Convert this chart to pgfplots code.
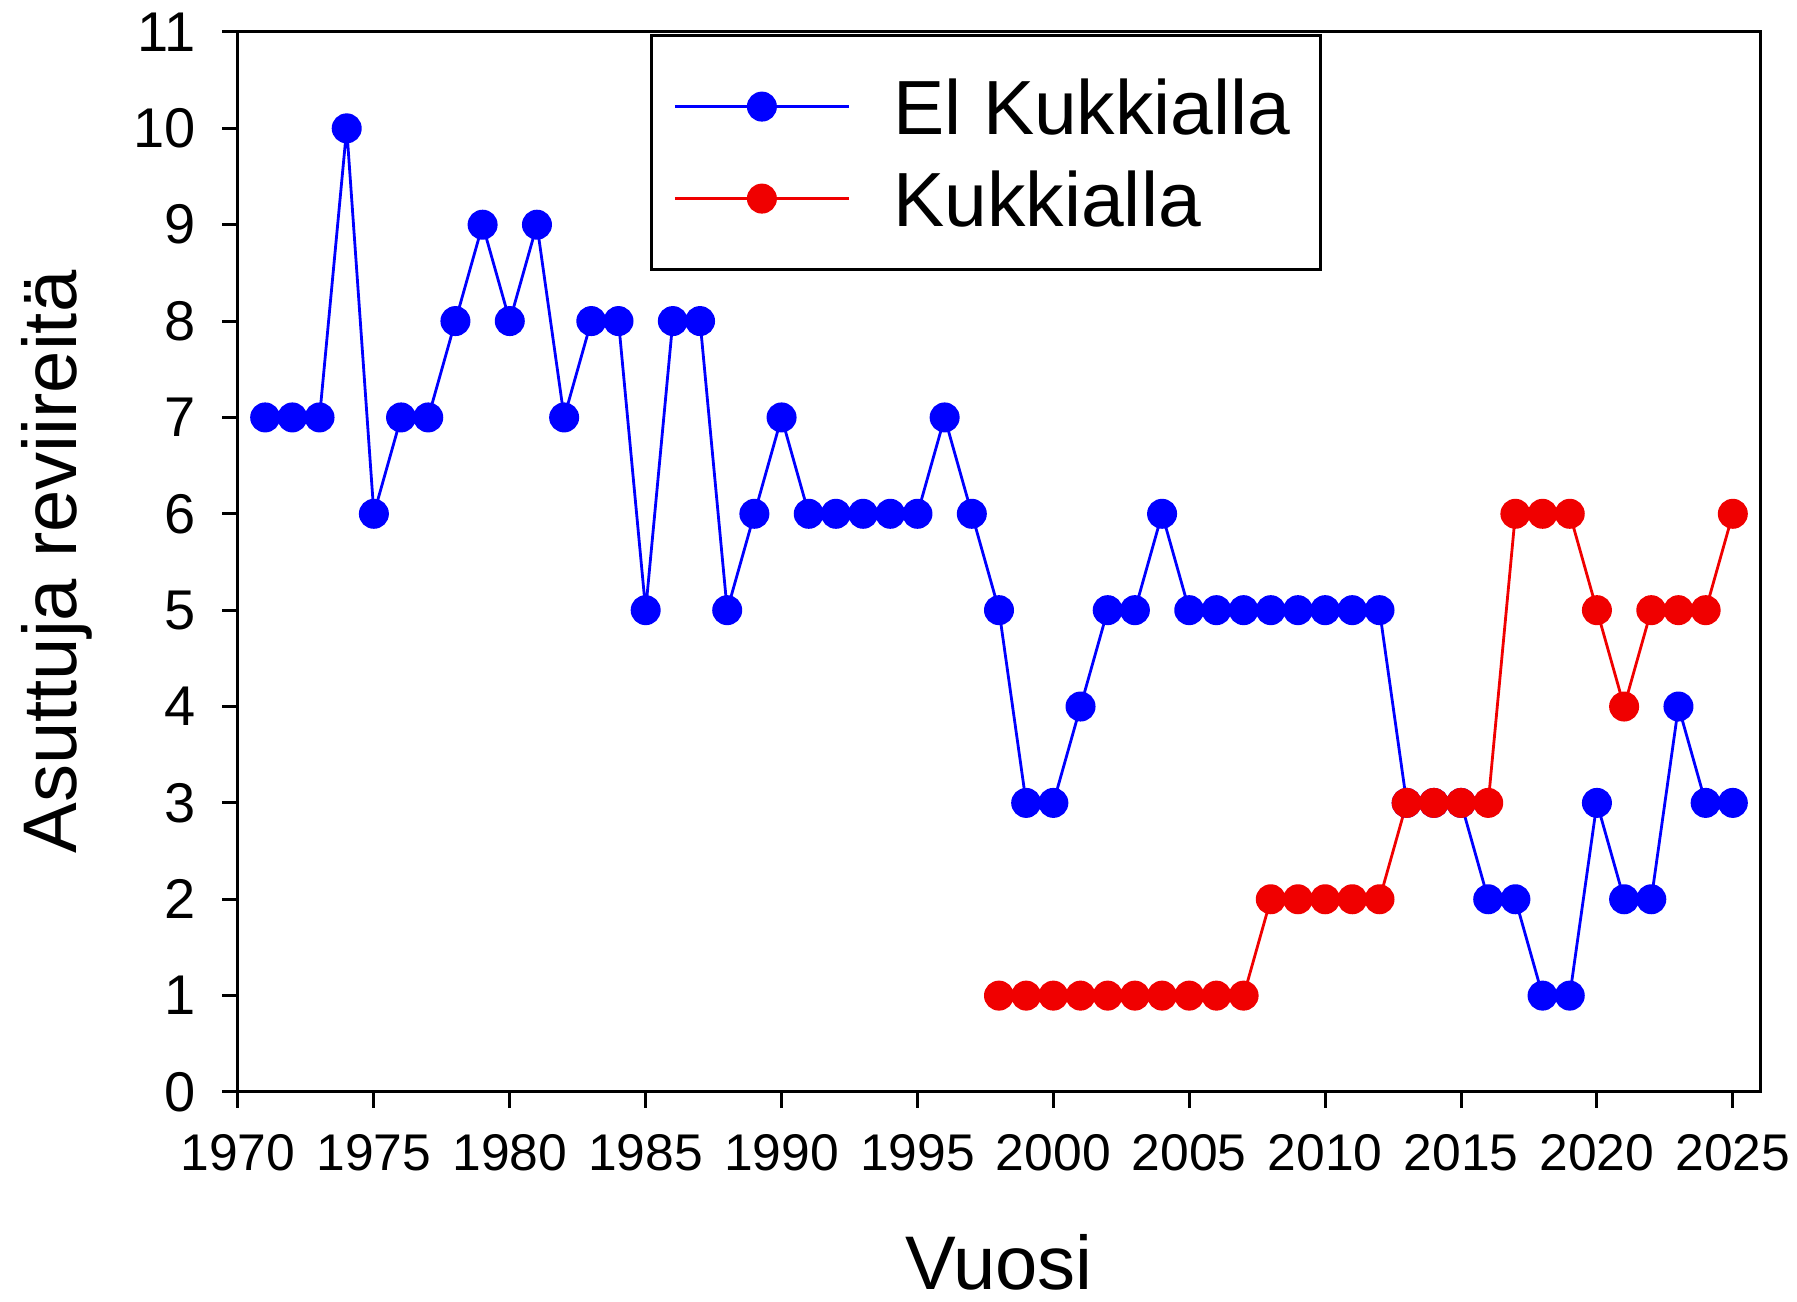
\documentclass[border=0pt]{standalone}
\usepackage{pgfplots}
\pgfplotsset{compat=1.18}
\usepackage{fontspec}
\setmainfont{Liberation Sans}
\definecolor{cblue}{RGB}{0,0,255}
\definecolor{cred}{RGB}{240,0,0}
\begin{document}
\begin{tikzpicture}
\useasboundingbox (-59.5pt,-52.5pt) rectangle (389.75pt,273pt);
\begin{axis}[
  at={(0pt,0pt)}, anchor=south west,
  scale only axis, width=380.5pt, height=265pt,
  xmin=1970, xmax=2026, ymin=0, ymax=11,
  xtick={1970,1975,...,2025}, ytick={0,1,...,11},
  /pgf/number format/assume math mode=true,
  /pgf/number format/set thousands separator={},
  tick align=outside, xtick pos=bottom, ytick pos=left,
  major tick length=4pt,
  every tick/.style={black, line width=0.75pt},
  axis line style={line width=0.75pt},
  xticklabel style={font=\fontsize{12.9}{14}\selectfont, yshift=-3pt},
  yticklabel style={font=\fontsize{14}{16}\selectfont, xshift=-3pt},
  xlabel={Vuosi}, ylabel={Asuttuja reviireitä},
  label style={font=\fontsize{19}{22}\selectfont},
  xlabel style={at={(axis description cs:0.5,0)}, anchor=center, yshift=-42.5pt},
  ylabel style={at={(axis description cs:-0.119,0.5)}, anchor=center},
  legend cell align=left,
  legend style={at={(axis description cs:0.2707,0.998)}, anchor=north west,
    font=\fontsize{19.2}{22}\selectfont, draw=black, line width=0.75pt,
    inner xsep=5.5pt, inner ysep=8.75pt, row sep=5pt, column sep=8.8pt,
    nodes={inner xsep=2pt, inner ysep=2pt, text height=14pt, text depth=0pt}},
  legend image code/.code={\draw[mark repeat=2,mark phase=2,#1] plot coordinates {(0pt,0pt) (21.75pt,0pt) (43.5pt,0pt)};},
]
\addplot[cblue, line width=0.7pt, mark=*, mark size=3.4pt, mark options={fill=cblue, draw=cblue}] coordinates {
(1971,7)(1972,7)(1973,7)(1974,10)(1975,6)(1976,7)(1977,7)(1978,8)(1979,9)(1980,8)
(1981,9)(1982,7)(1983,8)(1984,8)(1985,5)(1986,8)(1987,8)(1988,5)(1989,6)(1990,7)
(1991,6)(1992,6)(1993,6)(1994,6)(1995,6)(1996,7)(1997,6)(1998,5)(1999,3)(2000,3)
(2001,4)(2002,5)(2003,5)(2004,6)(2005,5)(2006,5)(2007,5)(2008,5)(2009,5)(2010,5)
(2011,5)(2012,5)(2013,3)(2014,3)(2015,3)(2016,2)(2017,2)(2018,1)(2019,1)(2020,3)
(2021,2)(2022,2)(2023,4)(2024,3)(2025,3)};
\addlegendentry{El Kukkialla}
\addplot[cred, line width=0.7pt, mark=*, mark size=3.4pt, mark options={fill=cred, draw=cred}] coordinates {
(1998,1)(1999,1)(2000,1)(2001,1)(2002,1)(2003,1)(2004,1)(2005,1)(2006,1)(2007,1)
(2008,2)(2009,2)(2010,2)(2011,2)(2012,2)(2013,3)(2014,3)(2015,3)(2016,3)
(2017,6)(2018,6)(2019,6)(2020,5)(2021,4)(2022,5)(2023,5)(2024,5)(2025,6)};
\addlegendentry{Kukkialla}
\end{axis}
\end{tikzpicture}
\end{document}
